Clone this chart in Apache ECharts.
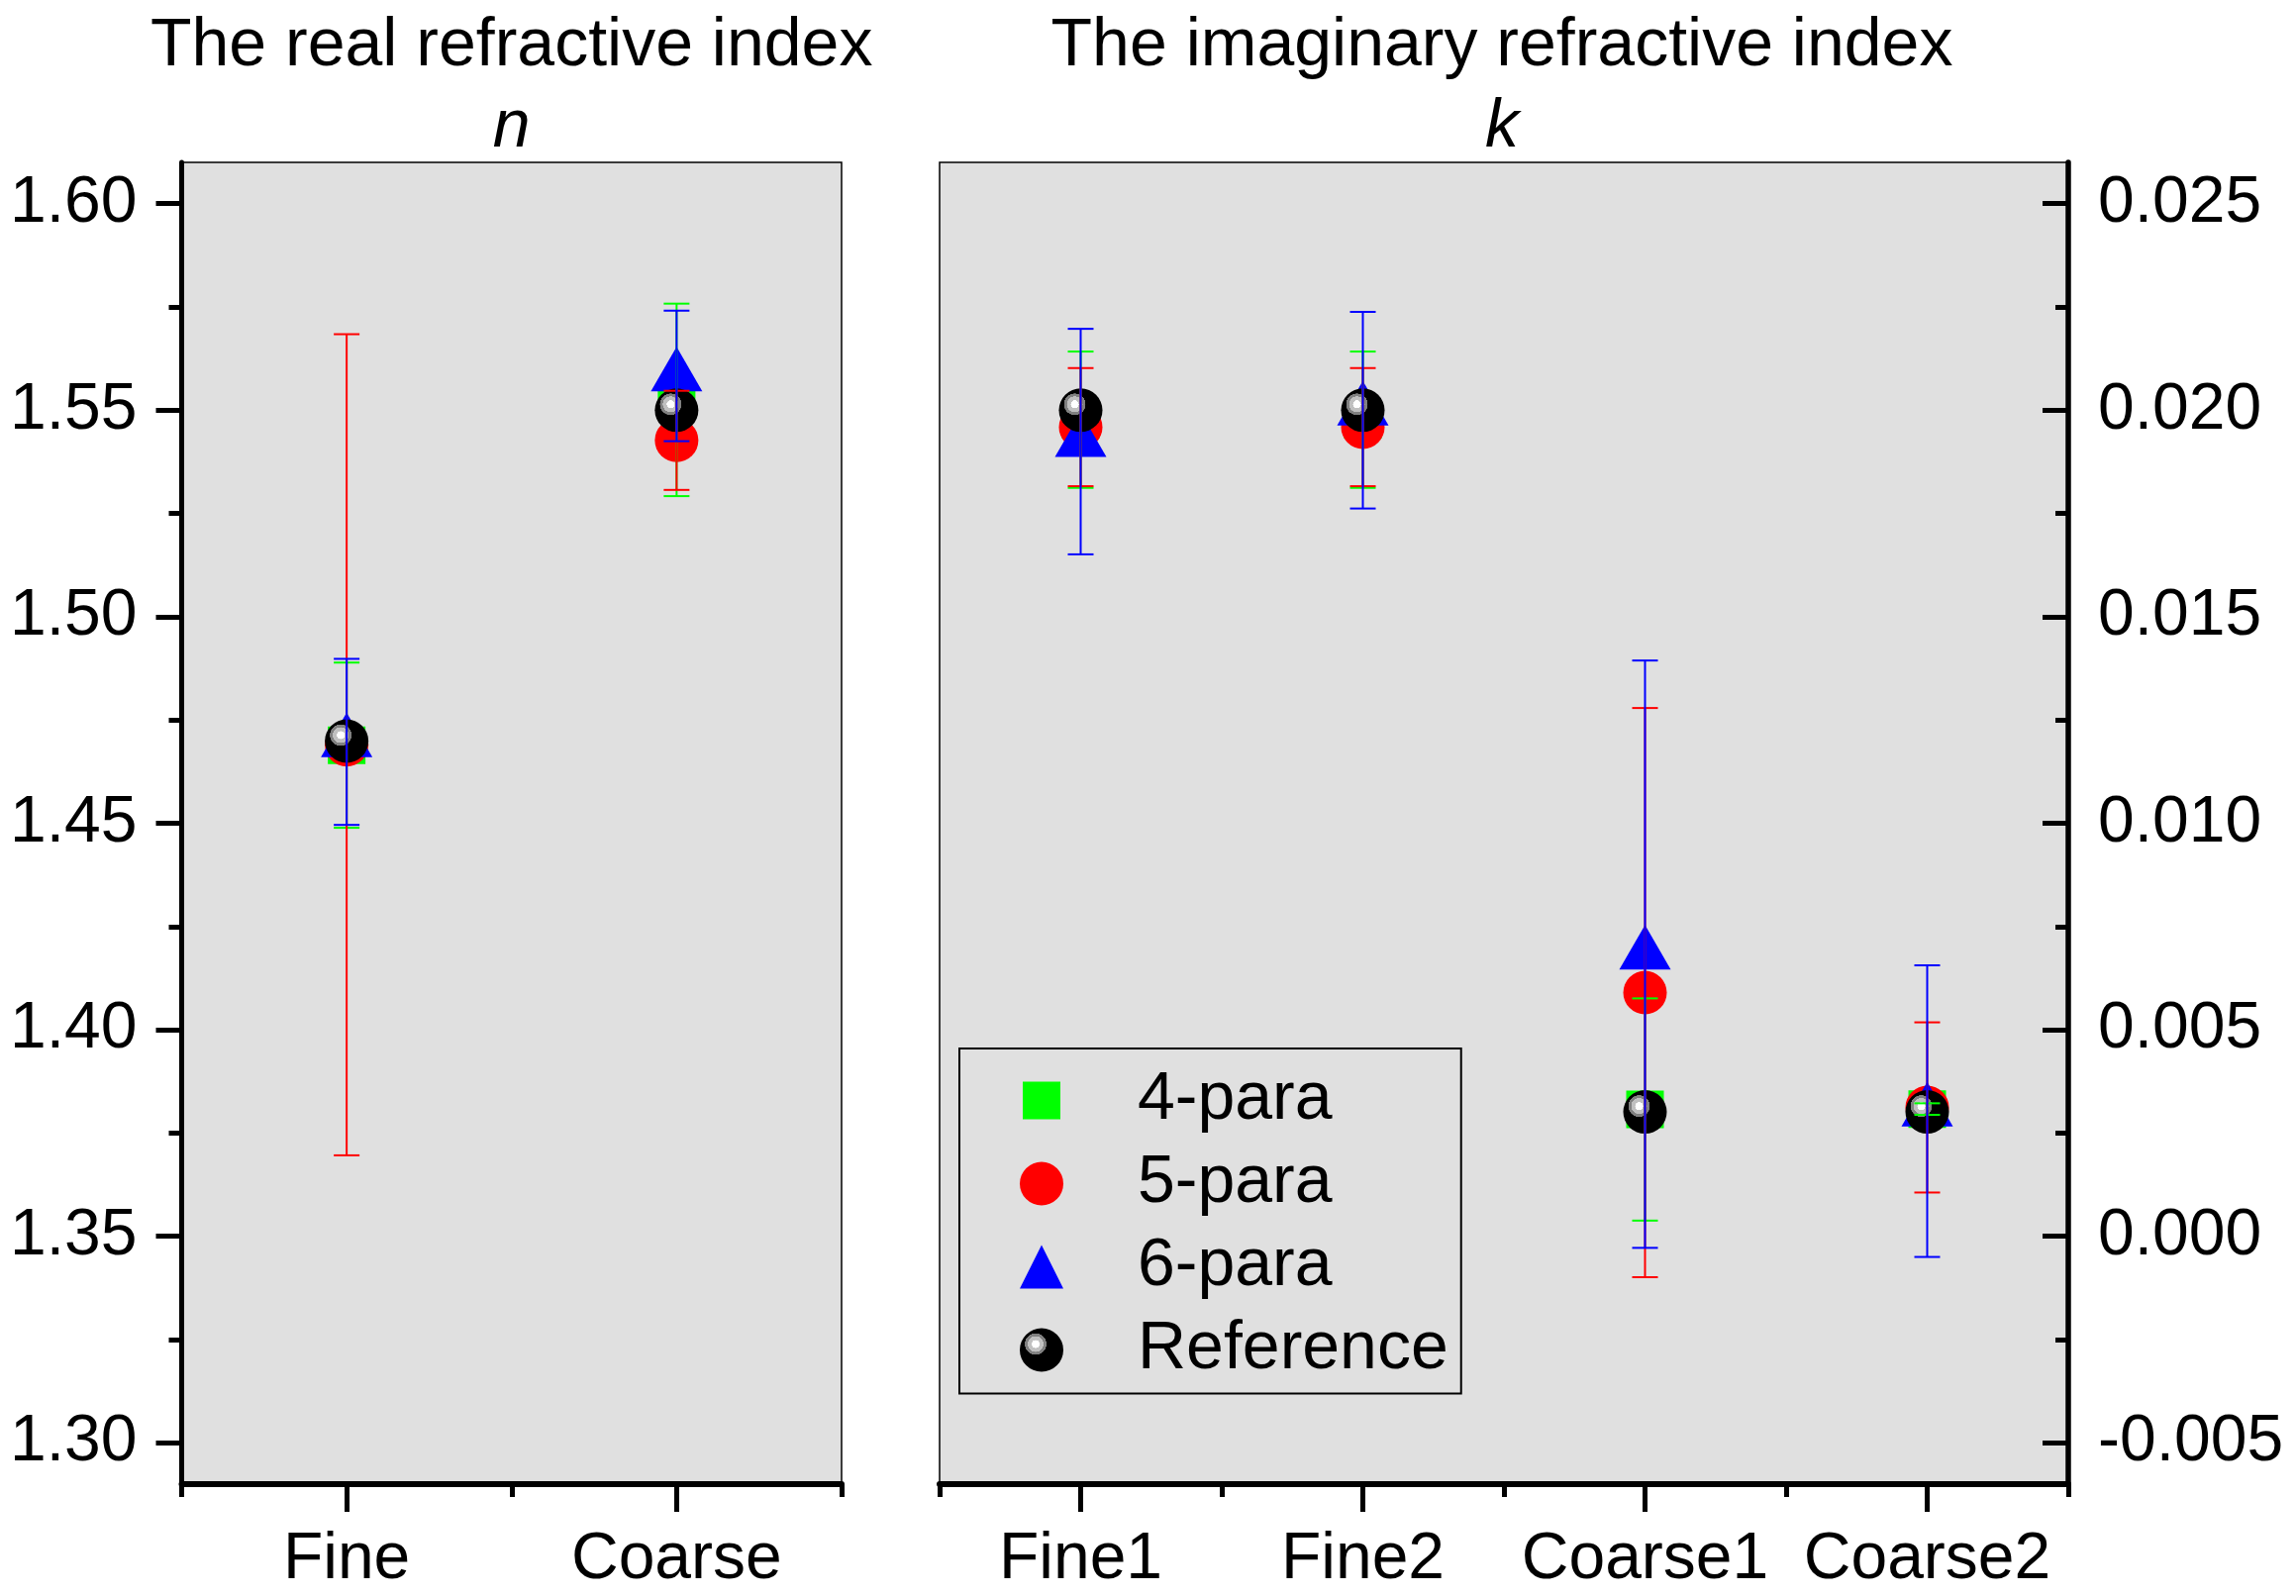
<!DOCTYPE html>
<html>
<head>
<meta charset="utf-8">
<script src="https://cdn.jsdelivr.net/npm/echarts@6/dist/echarts.min.js"></script>
<style>
html,body{margin:0;padding:0;background:#fff;}
#chart{width:2319px;height:1612px;}
</style>
</head>
<body>
<div id="chart"></div>
<script>
// ---- data ----
const catsN = ['Fine', 'Coarse'];
const n4 = [1.4689, 1.5525];
const n4Err = [0.0200, 0.0233];
const n5 = [1.4690, 1.5427];
const n5Err = [0.0994, 0.0120];
const n6 = [1.4697, 1.5583];
const n6Err = [0.0201, 0.0158];
const nRef = [1.4699, 1.5500];

const catsK = ['Fine1', 'Fine2', 'Coarse1', 'Coarse2'];
const k4 = [0.01977, 0.01977, 0.00307, 0.00308];
const k4Err = [0.00165, 0.00165, 0.00269, 0.00014];
const k5 = [0.01959, 0.01959, 0.00590, 0.00312];
const k5Err = [0.00143, 0.00143, 0.00689, 0.00206];
const k6 = [0.01924, 0.02000, 0.00683, 0.00303];
const k6Err = [0.00273, 0.00238, 0.00711, 0.00353];
const kRef = [0.02000, 0.02000, 0.00301, 0.00301];

const nTicks = [1.30, 1.35, 1.40, 1.45, 1.50, 1.55, 1.60];
const nMinor = [1.325, 1.375, 1.425, 1.475, 1.525, 1.575];
const kTicks = [-0.005, 0.000, 0.005, 0.010, 0.015, 0.020, 0.025];
const kMinor = [-0.0025, 0.0025, 0.0075, 0.0125, 0.0175, 0.0225];

const seriesNames = ['4-para', '5-para', '6-para', 'Reference'];
const titles = ['The real refractive index', 'The imaginary refractive index'];
const subTitles = ['n', 'k'];

// ---- styling ----
const FONT = '"Liberation Sans", Arial, sans-serif';
const GREEN = '#00ff00', RED = '#ff0000', BLUE = '#0000ff';
const sphere = {
  type: 'radial', x: 0.364, y: 0.364, r: 0.25,
  colorStops: [
    {offset: 0, color: '#ffffff'}, {offset: 0.36, color: '#ffffff'},
    {offset: 0.37, color: '#c0c0c0'}, {offset: 0.72, color: '#c0c0c0'},
    {offset: 0.73, color: '#808080'}, {offset: 0.98, color: '#808080'},
    {offset: 1, color: '#000000'}
  ]
};

const grids = [
  {left: 183.5, top: 164, width: 666.5, height: 1335},
  {left: 949, top: 164, width: 1140, height: 1335}
].map(g => Object.assign(g, {show: true, backgroundColor: '#e0e0e0', borderColor: '#000', borderWidth: 1.5, containLabel: false}));

function xAxes(gi, cats) {
  return [
    {gridIndex: gi, type: 'category', data: cats, position: 'bottom', boundaryGap: true,
     axisLine: {show: true, onZero: false, lineStyle: {color: '#000', width: 6}},
     axisTick: {show: true, alignWithLabel: true, length: 28, lineStyle: {color: '#000', width: 5}},
     axisLabel: {show: true, fontSize: 66, fontFamily: FONT, color: '#000', margin: 44, interval: 0},
     splitLine: {show: false}},
    {gridIndex: gi, type: 'category', data: cats, position: 'bottom', boundaryGap: true,
     axisLine: {show: false, onZero: false},
     axisTick: {show: true, length: 13, interval: 0, lineStyle: {color: '#000', width: 5}},
     axisLabel: {show: false}, splitLine: {show: false}}
  ];
}

const yAxes = [
  {gridIndex: 0, type: 'value', min: 1.29, max: 1.61, position: 'left',
   axisLine: {show: true, onZero: false, lineStyle: {color: '#000', width: 5}},
   axisTick: {show: true, customValues: nTicks, length: 26, lineStyle: {color: '#000', width: 5}},
   axisLabel: {show: true, customValues: nTicks, formatter: v => Number(v).toFixed(2), fontSize: 66, fontFamily: FONT, color: '#000', margin: 45},
   splitLine: {show: false}},
  {gridIndex: 0, type: 'value', min: 1.29, max: 1.61, position: 'left',
   axisLine: {show: false, onZero: false},
   axisTick: {show: true, customValues: nMinor, length: 13, lineStyle: {color: '#000', width: 5}},
   axisLabel: {show: false}, splitLine: {show: false}},
  {gridIndex: 1, type: 'value', min: -0.006, max: 0.026, position: 'right',
   axisLine: {show: true, onZero: false, lineStyle: {color: '#000', width: 5.5}},
   axisTick: {show: true, inside: true, customValues: kTicks, length: 26, lineStyle: {color: '#000', width: 5}},
   axisLabel: {show: true, customValues: kTicks, formatter: v => Number(v).toFixed(3), fontSize: 66, fontFamily: FONT, color: '#000', margin: 30},
   splitLine: {show: false}},
  {gridIndex: 1, type: 'value', min: -0.006, max: 0.026, position: 'right',
   axisLine: {show: false, onZero: false},
   axisTick: {show: true, inside: true, customValues: kMinor, length: 13, lineStyle: {color: '#000', width: 5}},
   axisLabel: {show: false}, splitLine: {show: false}}
];

function errSeries(gi, vals, errs, color) {
  return {
    type: 'custom', xAxisIndex: gi * 2, yAxisIndex: gi * 2, z: 10, silent: true, clip: false,
    data: vals.map((v, i) => [i, v, errs[i]]),
    encode: {x: 0, y: 1},
    renderItem: function (params, api) {
      const x = api.value(0), y = api.value(1), e = api.value(2);
      const t = api.coord([x, y + e]);
      const b = api.coord([x, y - e]);
      const hw = 13;
      const st = {stroke: color, lineWidth: 2};
      return {type: 'group', children: [
        {type: 'line', shape: {x1: t[0], y1: t[1], x2: b[0], y2: b[1]}, style: st},
        {type: 'line', shape: {x1: t[0] - hw, y1: t[1], x2: t[0] + hw, y2: t[1]}, style: st},
        {type: 'line', shape: {x1: b[0] - hw, y1: b[1], x2: b[0] + hw, y2: b[1]}, style: st}
      ]};
    }
  };
}

function scatterSeries(name, gi, vals, symbol, size, color, z, offset) {
  return {
    type: 'scatter', name: name, xAxisIndex: gi * 2, yAxisIndex: gi * 2, z: z,
    data: vals.map((v, i) => [i, v]),
    symbol: symbol, symbolSize: size, symbolOffset: offset || [0, 0],
    itemStyle: {color: color, opacity: 1, borderWidth: 0},
    emphasis: {disabled: true}
  };
}

const series = [];
[[n4, n5, n6, nRef, n4Err, n5Err, n6Err], [k4, k5, k6, kRef, k4Err, k5Err, k6Err]].forEach((d, gi) => {
  series.push(scatterSeries(seriesNames[0], gi, d[0], 'rect', 38, GREEN, 3));
  series.push(scatterSeries(seriesNames[1], gi, d[1], 'circle', 44, RED, 4));
  series.push(scatterSeries(seriesNames[2], gi, d[2], 'triangle', [52, 45], BLUE, 5, [0, -7]));
  series.push(scatterSeries(seriesNames[3], gi, d[3], 'circle', 44, sphere, 6));
  series.push(errSeries(gi, d[0], d[4], GREEN));
  series.push(errSeries(gi, d[1], d[5], RED));
  series.push(errSeries(gi, d[2], d[6], BLUE));
});

const titleX = [516.7, 1517];
const graphics = [];
titles.forEach((t, i) => {
  graphics.push({type: 'text', x: titleX[i], y: 47, z: 100,
    style: {text: t, font: '68px ' + FONT, fill: '#000', align: 'center', verticalAlign: 'middle'}});
  graphics.push({type: 'text', x: titleX[i], y: 129, z: 100,
    style: {text: subTitles[i], font: 'italic 68px ' + FONT, fill: '#000', align: 'center', verticalAlign: 'middle'}});
});

const option = {
  animation: false,
  backgroundColor: '#ffffff',
  grid: grids,
  xAxis: xAxes(0, catsN).concat(xAxes(1, catsK)),
  yAxis: yAxes,
  legend: {
    orient: 'vertical', left: 969, top: 1059,
    padding: [18.5, 13, 10, 61],
    itemWidth: 44, itemHeight: 44, itemGap: 16,
    backgroundColor: '#e0e0e0', borderColor: '#000', borderWidth: 2,
    selectedMode: false,
    textStyle: {fontSize: 68, lineHeight: 68, fontFamily: FONT, color: '#000', padding: [0, 0, 0, 70]},
    data: [
      {name: seriesNames[0], icon: 'path://M0,0M44,44M3,3L41,3L41,41L3,41Z'},
      {name: seriesNames[1], icon: 'circle'},
      {name: seriesNames[2], icon: 'triangle'},
      {name: seriesNames[3], icon: 'circle'}
    ]
  },
  graphic: graphics,
  series: series
};

const chart = echarts.init(document.getElementById('chart'), null, {renderer: 'canvas'});
chart.setOption(option);
</script>
</body>
</html>
